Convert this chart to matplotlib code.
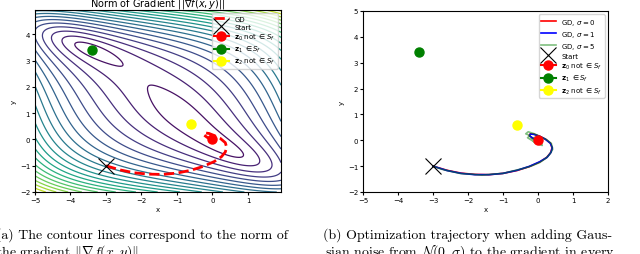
import numpy as np
import matplotlib
matplotlib.use("Agg")
import matplotlib.pyplot as plt

# critical points
z0 = (0.0, 0.0)
z1 = (-3.4, 3.4)
z2 = (-0.6, 0.6)
start = (-3.0, -1.0)

# GD trajectory
gd_x = [-3.0, -2.6, -2.2, -1.8, -1.4, -1.0, -0.6, -0.25, 0.05, 0.25, 0.36, 0.40,
        0.36, 0.22, 0.05, -0.10, -0.22, -0.25, -0.15, -0.05, 0.0]
gd_y = [-1.0, -1.16, -1.27, -1.32, -1.33, -1.28, -1.17, -1.02, -0.84, -0.66, -0.48, -0.30,
        -0.12, 0.04, 0.15, 0.23, 0.25, 0.18, 0.08, 0.02, 0.0]
s1_x = [-3.0, -2.6, -2.2, -1.8, -1.4, -1.0, -0.6, -0.25, 0.05, 0.26, 0.37, 0.41,
        0.35, 0.20, 0.04, -0.12, -0.22, -0.24, -0.14, -0.04, 0.0]
s1_y = [-1.0, -1.17, -1.28, -1.33, -1.33, -1.28, -1.16, -1.01, -0.83, -0.66, -0.47, -0.29,
        -0.11, 0.05, 0.16, 0.23, 0.24, 0.17, 0.07, 0.02, 0.0]
s5_x = [-3.0, -2.75, -2.5, -2.2, -1.9, -1.6, -1.3, -1.0, -0.7, -0.45, -0.2, 0.05, 0.22,
        0.33, 0.42, 0.38, 0.25, 0.1, -0.1, -0.28, -0.35, -0.22, -0.3, -0.12, 0.0, 0.12,
        0.08, -0.08, -0.2, -0.1, 0.05, 0.1, 0.0]
s5_y = [-1.0, -1.12, -1.2, -1.29, -1.31, -1.35, -1.31, -1.28, -1.18, -1.1, -1.0, -0.86, -0.7,
        -0.55, -0.35, -0.12, 0.02, 0.12, 0.25, 0.33, 0.25, 0.18, 0.1, -0.05, -0.15, -0.2,
        0.0, 0.12, 0.05, -0.08, -0.12, 0.02, 0.0]

# gradient-norm field: f = (x+y)^2 + p(x) + q(y)
xs = np.linspace(-5, 1.93, 300)
ys = np.linspace(-2, 4.93, 300)
X, Y = np.meshgrid(xs, ys)
S = X + Y
dfx = 2 * S + 0.15 * X * (X + 0.6) * (X + 3.4)
dfy = 2 * S + 0.4 * Y * (Y - 0.6) * (Y - 3.4)
G = np.sqrt(dfx**2 + dfy**2)

fig = plt.figure(figsize=(6.4, 2.55), dpi=100)
ax1 = fig.add_axes([35 / 640, 1 - 193 / 255, 246 / 640, 182 / 255])
ax2 = fig.add_axes([363 / 640, 1 - 193 / 255, 245 / 640, 181 / 255])

ax1.contour(X, Y, G, levels=24, cmap="viridis", linewidths=0.9)
ax1.plot(gd_x, gd_y, "r--", lw=2, label="GD")
ax1.plot(*start, "kx", ms=11, mew=0.8, label="Start")
ax1.plot(*z0, "o-", color="red", ms=6.5, label=r"$\mathbf{z}_0$ not $\in S_f$")
ax1.plot(*z1, "o-", color="green", ms=6.5, label=r"$\mathbf{z}_1$ $\in S_f$")
ax1.plot(*z2, "o-", color="yellow", ms=6.5, label=r"$\mathbf{z}_2$ not $\in S_f$")
ax1.set_xlim(-5, 1.93)
ax1.set_ylim(-2, 4.93)
ax1.set_title(r"Norm of Gradient $||\nabla f(x, y)||$", fontsize=7, pad=2)
ax1.legend(loc="upper right", fontsize=5, handlelength=2.2, borderpad=0.3, labelspacing=0.3)

ax2.plot(gd_x, gd_y, color="red", lw=1.2, label=r"GD, $\sigma = 0$")
ax2.plot(s1_x, s1_y, color="blue", lw=1.2, label=r"GD, $\sigma = 1$")
ax2.plot(s5_x, s5_y, color="green", lw=1.2, alpha=0.5, label=r"GD, $\sigma = 5$")
ax2.plot(*start, "kx", ms=11, mew=0.8, label="Start")
ax2.plot(*z0, "o-", color="red", ms=6.5, label=r"$\mathbf{z}_0$ not $\in S_f$")
ax2.plot(*z1, "o-", color="green", ms=6.5, label=r"$\mathbf{z}_1$ $\in S_f$")
ax2.plot(*z2, "o-", color="yellow", ms=6.5, label=r"$\mathbf{z}_2$ not $\in S_f$")
ax2.set_xlim(-5, 2)
ax2.set_ylim(-2, 5)
ax2.legend(loc="upper right", fontsize=5, handlelength=2.2, borderpad=0.3, labelspacing=0.3)

for ax in (ax1, ax2):
    ax.tick_params(labelsize=5, length=2, pad=1.5)
    ax.set_xlabel("x", fontsize=5, labelpad=2)
    ax.set_ylabel("y", fontsize=5, labelpad=2)

fig.text(-4 / 640, 1 - 239 / 255, "(a) The contour lines correspond to the norm of",
         fontsize=10, family="cmr10", math_fontfamily="cm")
fig.text(-4 / 640, 1 - 256 / 255, r"the gradient $\|\nabla f(x, y)\|$.",
         fontsize=10, family="cmr10", math_fontfamily="cm")
fig.text(323 / 640, 1 - 239 / 255, "(b) Optimization trajectory when adding Gaus-",
         fontsize=10, family="cmr10", math_fontfamily="cm")
fig.text(325 / 640, 1 - 256 / 255, r"sian noise from $\mathcal{N}(0, \sigma)$ to the gradient in every",
         fontsize=10, family="cmr10", math_fontfamily="cm")

fig.savefig("out.png", dpi=100)
